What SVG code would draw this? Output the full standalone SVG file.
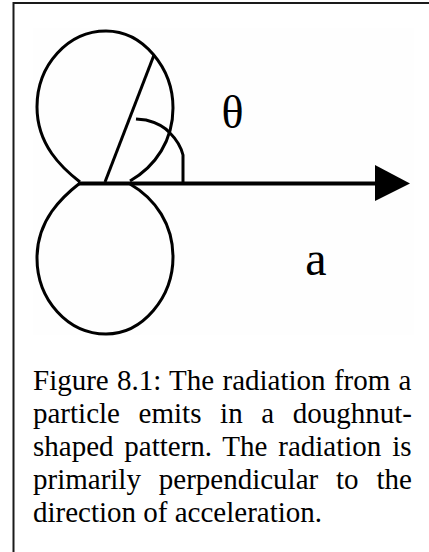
<svg xmlns="http://www.w3.org/2000/svg" width="429" height="552" viewBox="0 0 429 552">
  <style>
    .ln { fill: none; stroke: #000; stroke-width: 3; stroke-linejoin: round; }
    .lbl { font-family: "Liberation Serif", "Times New Roman", serif; fill: #000; }
    .cap { font-family: "Liberation Serif", "Times New Roman", serif; font-size: 29px; fill: #000; }
  </style>
  <rect x="0" y="0" width="429" height="552" fill="#fff"/>
  <g id="frame">
    <path d="M13.5,552 V3 H429" fill="none" stroke="#1a1a1a" stroke-width="2"/>
    <rect x="33" y="28" width="381" height="307" fill="#fefefe"/>
  </g>
  <g id="upper-lobe">
    <path class="ln" d="M80,182 C62,168 37,145 37,107 C37,65 68,31 106,31 C143,31 173,68 173,108 C173,140 156,166 130,181"/>
  </g>
  <g id="lower-lobe" transform="matrix(1,0,0,-1,0,365)">
    <path class="ln" d="M80,182 C62,168 37,145 37,107 C37,65 68,31 106,31 C143,31 173,68 173,108 C173,140 156,166 130,181"/>
  </g>
  <g id="connectors">
    <line x1="78" y1="183.5" x2="380" y2="183.5" stroke="#000" stroke-width="4"/>
    <polygon points="375,165 410,183.5 375,201" fill="#000"/>
    <line class="ln" x1="105" y1="182" x2="154" y2="55"/>
    <path class="ln" d="M136,119 L146,120 Q162,124 170,133 Q180,143 183,155 L183,182"/>
  </g>
  <g id="label-theta">
    <text class="lbl" x="232.5" y="128" font-size="46" text-anchor="middle">θ</text>
  </g>
  <g id="label-a">
    <text class="lbl" x="316" y="275" font-size="48" text-anchor="middle">a</text>
  </g>
  <g id="caption">
    <text class="cap" x="33" y="390" word-spacing="1.06">Figure 8.1: The radiation from a</text>
    <text class="cap" x="33" y="423" word-spacing="11.4">particle emits in a doughnut-</text>
    <text class="cap" x="33" y="456" word-spacing="3.55">shaped pattern. The radiation is</text>
    <text class="cap" x="33" y="489" word-spacing="10.6">primarily perpendicular to the</text>
    <text class="cap" x="33" y="522">direction of acceleration.</text>
  </g>
</svg>
